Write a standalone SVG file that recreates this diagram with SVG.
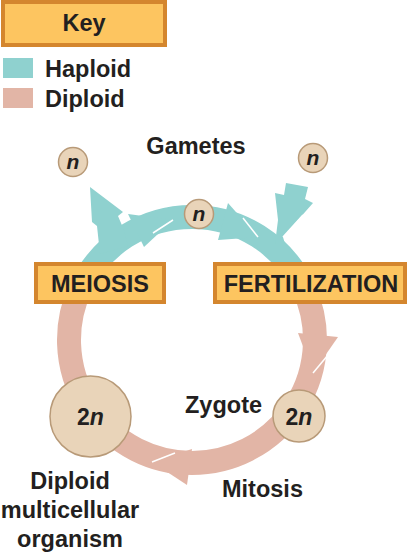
<svg xmlns="http://www.w3.org/2000/svg" width="408" height="554" viewBox="0 0 408 554">
<style>
.lbl{font-family:"Liberation Sans",Arial,sans-serif;font-weight:bold;font-size:23.5px;fill:#231f20}
.box{fill:#fdc560;stroke:#d4862e;stroke-width:4}
.cell{fill:#e9d4b9;stroke:#b89a78;stroke-width:1.5}
.hap{fill:#8fd1cf}
.dip{fill:#e2b5a6}
.ringH{fill:none;stroke:#8fd1cf;stroke-width:24}
.ringD{fill:none;stroke:#e2b5a6;stroke-width:24}
.hl{fill:none;stroke:#ffffff;stroke-width:1.5}
.n{font-family:"Liberation Sans",Arial,sans-serif;font-weight:bold;font-style:italic;font-size:21px;fill:#231f20}
.two{font-family:"Liberation Sans",Arial,sans-serif;font-weight:bold;font-size:23px;fill:#231f20}
</style>
<rect width="408" height="554" fill="#ffffff"/>
<g id="key">
<rect class="box" x="3" y="2" width="162" height="43"/>
<text class="lbl" x="84" y="31" text-anchor="middle">Key</text>
</g>
<g id="legend-haploid">
<rect class="hap" x="3" y="58" width="30" height="20"/>
<text class="lbl" x="45" y="77">Haploid</text>
</g>
<g id="legend-diploid">
<rect class="dip" x="3" y="88" width="30" height="20"/>
<text class="lbl" x="45" y="107">Diploid</text>
</g>
<g id="connectors">
<path class="ringD" d="M 303.5 288 A 123 123 0 1 1 80.5 288"/>
<path class="ringH" d="M 80.5 288 A 123 123 0 0 1 303.5 288"/>
<polygon class="hap" points="90,187 123,212 118,216 124,230 128,246 100,254 97,226 92,222"/>
<polygon class="hap" points="286,183 308,187 305,199 313,203 283,237 285,244 275,244 278,220 275,193 284,195"/>
<polygon class="hap" points="128,214 173,220 144,247"/>
<polygon class="hap" points="228,203 258,237 218,240"/>
<polygon class="dip" points="298,333 338,337 313,373"/>
<polygon class="dip" points="192,449 152,462 187,485"/>
<polyline class="hl" points="173,220 153,233"/>
<polyline class="hl" points="258,237 243,218"/>
<polyline class="hl" points="283,237 303,215"/>
<polyline class="hl" points="313,373 328,355"/>
<polyline class="hl" points="152,462 175,453"/>
</g>
<g id="gamete-left">
<circle class="cell" cx="73" cy="162" r="14.5"/>
<text class="n" x="73" y="169" text-anchor="middle">n</text>
</g>
<g id="gamete-mid">
<circle class="cell" cx="199" cy="214" r="14.5"/>
<text class="n" x="199" y="221" text-anchor="middle">n</text>
</g>
<g id="gamete-right">
<circle class="cell" cx="313" cy="158" r="14.5"/>
<text class="n" x="313" y="165" text-anchor="middle">n</text>
</g>
<g id="gametes-label">
<text class="lbl" x="196" y="154" text-anchor="middle">Gametes</text>
</g>
<g id="meiosis">
<rect class="box" x="36" y="264" width="128" height="38"/>
<text class="lbl" x="100" y="292" text-anchor="middle">MEIOSIS</text>
</g>
<g id="fertilization">
<rect class="box" x="215" y="264" width="190" height="38"/>
<text class="lbl" x="311" y="292" text-anchor="middle">FERTILIZATION</text>
</g>
<g id="zygote">
<circle class="cell" cx="299" cy="416" r="26"/>
<text class="two" x="299" y="425" text-anchor="middle">2<tspan font-style="italic">n</tspan></text>
<text class="lbl" x="185" y="413">Zygote</text>
</g>
<g id="organism">
<circle class="cell" cx="90.5" cy="416.5" r="40.5"/>
<text class="two" x="90.5" y="425" text-anchor="middle">2<tspan font-style="italic">n</tspan></text>
<text class="lbl" x="70" y="489" text-anchor="middle">Diploid</text>
<text class="lbl" x="70" y="518" text-anchor="middle">multicellular</text>
<text class="lbl" x="70" y="547" text-anchor="middle">organism</text>
</g>
<g id="mitosis">
<text class="lbl" x="222" y="497">Mitosis</text>
</g>
</svg>
